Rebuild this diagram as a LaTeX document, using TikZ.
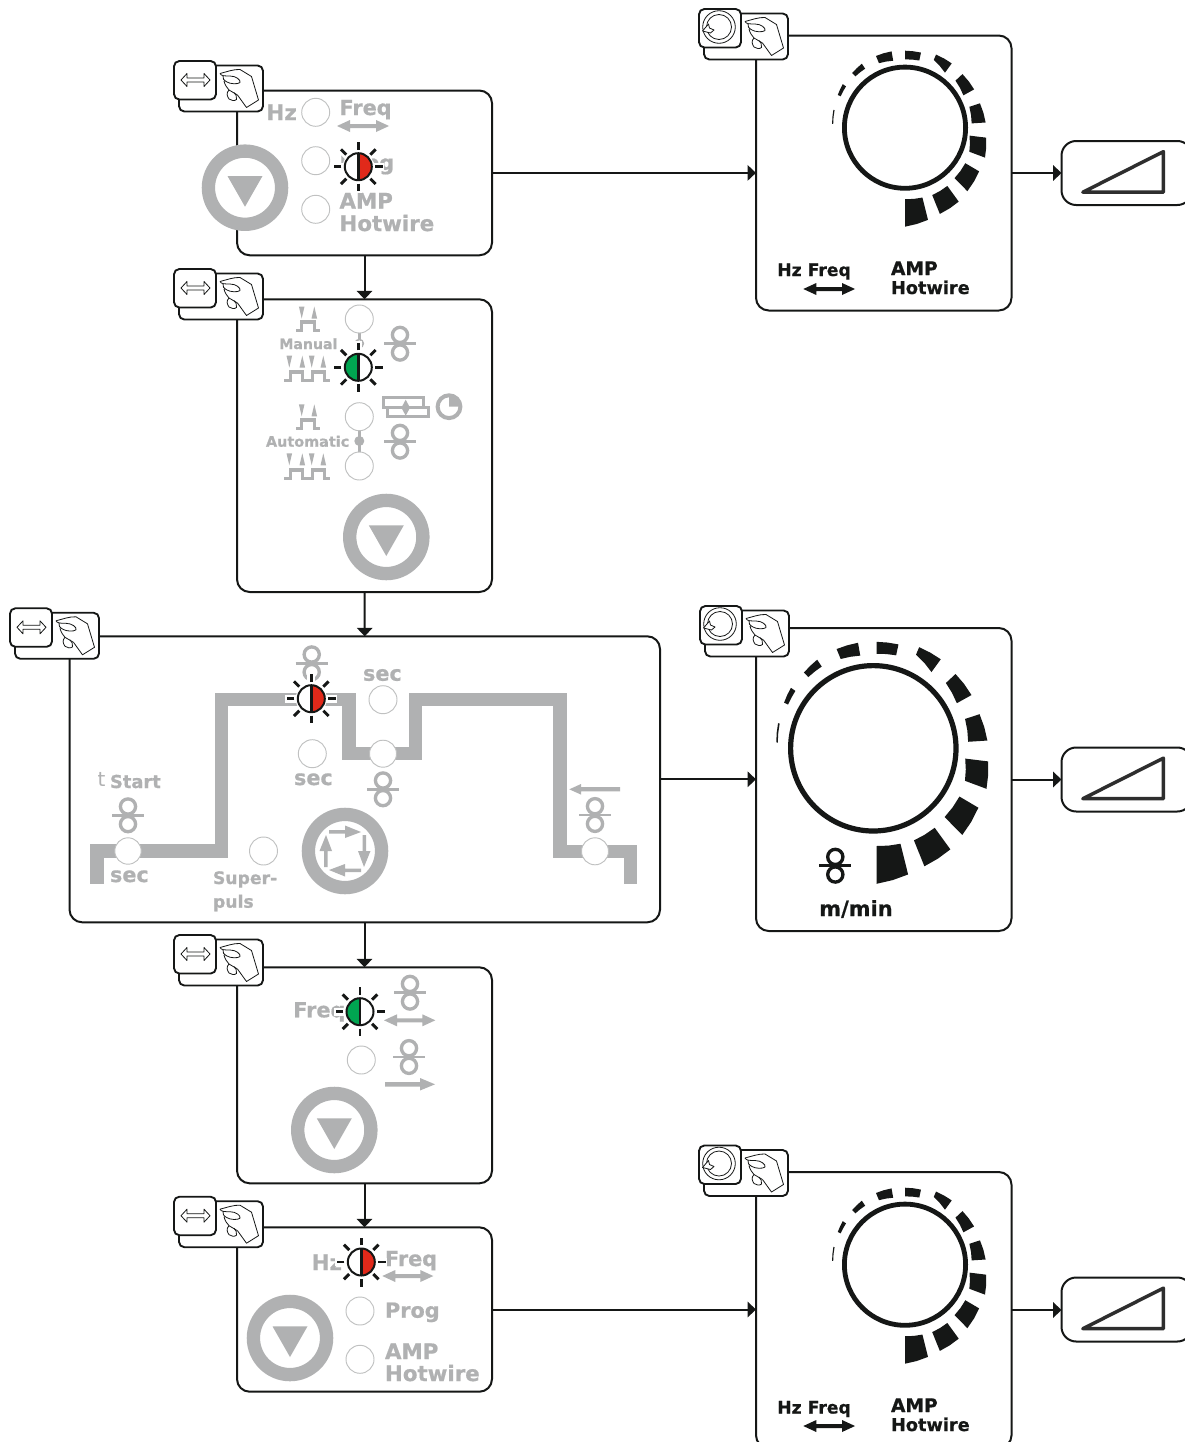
\documentclass[tikz,border=0pt]{standalone}
\usepackage{fontspec}
\setmainfont{DejaVu Sans}[BoldFeatures={FakeBold=0.7}]
\usetikzlibrary{arrows.meta}
\definecolor{gr}{HTML}{B0B1B2}
\definecolor{bk}{HTML}{151716}
\definecolor{ledred}{HTML}{E1291A}
\definecolor{ledgreen}{HTML}{00A551}
\tikzset{
  panel/.style={draw=bk,fill=white,rounded corners=9.5pt,line width=1.5pt,inner sep=0pt,outer sep=0pt},
  rampbox/.style={panel,rounded corners=11pt},
  conn/.style={draw=bk,line width=1.5pt,-{Triangle[length=6.3pt,width=11.5pt]}},
  key/.style={draw=bk,fill=white,rounded corners=4pt,line width=1.4pt},
  thin icon/.style={draw=bk,line width=0.6pt,line join=round},
  label/.style={inner sep=0pt,outer sep=0pt,anchor=base west,font=\bfseries},
  plainled/.style={draw=gr!80,fill=white,line width=0.7pt}
}
\newcommand\boxnode[6]{%
  \pgfmathsetmacro\bw{(#5-#3)*0.75}\pgfmathsetmacro\bh{(#6-#4)*0.75}%
  \node[#1,minimum width=\bw pt,minimum height=\bh pt,anchor=north west] (#2) at (#3,#4) {};}
% name, x, baseline, size(pt), colour, text
\newcommand\lab[6]{\node[label,text=#5] (#1) at (#2,#3) {\fontsize{#4pt}{#4pt}\selectfont #6};}
\newcommand\handshape{%
  \draw[thin icon] (46,12.5) .. controls (52,11) and (60,8) .. (66,8.5) -- (77.5,15.5) -- (84.5,39) -- (72.5,46.5) -- (63.5,34);
  \draw[thin icon] (46,12.5) .. controls (47,15) and (51,15) .. (56,15) .. controls (62,15) and (67,19) .. (66,21.5) .. controls (64,23.5) and (56,23) .. (53,21) .. controls (50,19.5) and (48,17) .. (49,15);
  \draw[thin icon] (50,20) .. controls (51,24) and (53,27) .. (55,29) -- (63.5,34);
  \draw[thin icon] (55,29) .. controls (52,32) and (53,35) .. (55,38) .. controls (57,40) and (61,40) .. (62.5,38.5) .. controls (63,36) and (62,33) .. (60,31.5);
}
\newcommand\keyframe{%
  \draw[key] (5,4.5) rectangle (89,50.5);
  \handshape
  \draw[key] (0,0) rectangle (42,38.5);
}
\newcommand\selectkey[2]{\begin{scope}[shift={(#1,#2)}]\keyframe
  \draw[thin icon] (7,19) -- (13,12.5) -- (13,17) -- (30,17) -- (30,12.5) -- (36,19) -- (30,25.5) -- (30,21) -- (13,21) -- (13,25.5) -- cycle;
\end{scope}}
\newcommand\turnkey[2]{\begin{scope}[shift={(#1,#2)}]\keyframe
  \draw[thin icon] (20,18) circle[radius=16.3];
  \draw[thin icon] (20,18) circle[radius=12.5];
  \draw[thin icon,fill=white] (3.5,22) -- (9.5,15) -- (10.5,19) -- (15,21) -- (11.5,24) -- cycle;
\end{scope}}
\newcommand\led[3][14]{\draw[plainled] (#2,#3) circle[radius=#1];}
% x, y, colour, side: 1 right half, -1 left half
\newcommand\blink[4]{\begin{scope}[shift={(#1,#2)}]
  \fill[white] (0,0) circle[radius=15.6];
  \foreach \a in {0,45,...,315}{\draw[white,line width=6pt] (\a:15) -- (\a:26);}
  \foreach \a in {0,45,...,315}{\draw[bk,line width=2.2pt] (\a:17) -- (\a:24.5);}
  \begin{scope}\clip (0,-15) rectangle (#4*15,15);\fill[#3] (0,0) circle[radius=13.5];\end{scope}
  \draw[bk,line width=1.5pt] (0,0) circle[radius=13.5];
  \draw[bk,line width=2pt] (0,-13.5) -- (0,13.5);
\end{scope}}
\newcommand\wiresym[3][gr]{\begin{scope}[shift={(#2,#3)}]
  \draw[#1,line width=2.5pt] (0,-8.8) circle[radius=7.6];
  \draw[#1,line width=2.5pt] (0,8.8) circle[radius=7.6];
  \draw[#1,line width=2pt] (-16,0) -- (16,0);
\end{scope}}
\newcommand\downbtn[2]{\begin{scope}[shift={(#1,#2)}]
  \draw[gr,fill=white,line width=10pt] (0,0) circle[radius=36.6];
  \fill[gr] (-17.5,-11.7) -- (17.5,-11.7) -- (0,19) -- cycle;
\end{scope}}
% x1, x2, y, colour
\newcommand\dblarrow[4]{\fill[#4] (#1,#3) -- ++(13,-6) -- ++(0,4) -- ({#2-13},{#3-2}) -- ++(0,-4) -- (#2,#3) -- ({#2-13},{#3+6}) -- ++(0,-4) -- ({#1+13},{#3+2}) -- ++(0,4) -- cycle;}
% a1 a2 inner1 outer1 inner2 outer2
\newcommand\kw[6]{\fill[bk] (#1:#3) -- ({(#1+#2)/2}:{(#3+#5)/2}) -- (#2:#5) -- (#2:#6) -- ({(#1+#2)/2}:{(#4+#6)/2}) -- (#1:#4) -- cycle;}
\newcommand\dialmarks[3]{\begin{scope}[shift={(#1,#2)},scale=#3]
  \kw{90}{76}{71.5}{99}{72}{95}
  \kw{68}{54}{72.7}{93}{72}{91.4}
  \kw{45.5}{30.5}{70.7}{89}{70}{86}
  \kw{20.5}{7}{68.7}{85.4}{65}{81.8}
  \kw{-3.7}{-18}{66.8}{80.8}{67.7}{78.8}
  \kw{-29}{-43}{66.8}{79}{69}{78.6}
  \kw{-54}{-67}{68}{79.5}{73.6}{79.4}
  \kw{-78}{-90}{68.7}{76.8}{68.3}{77}
  \kw{-100}{-112}{68}{77.5}{69.6}{77.4}
  \kw{-124}{-134}{71.2}{77.2}{71.4}{76}
  \kw{-145}{-154}{72}{76}{71.6}{74.8}
  \kw{-166}{-177}{72.6}{73.8}{71.9}{73}
\end{scope}}
\newcommand\pulseone[2]{\begin{scope}[shift={(#1,#2)}]
  \draw[gr,line width=2.6pt,line join=miter] (-12,0) -- (-6.3,0) -- (-6.3,-8.5) -- (6.3,-8.5) -- (6.3,0) -- (12,0);
  \fill[gr] (-9.1,-24) -- (-3.5,-24) -- (-6.3,-12) -- cycle;
  \fill[gr] (3.5,-12) -- (9.1,-12) -- (6.3,-24) -- cycle;
\end{scope}}
\newcommand\pulsetwo[2]{\begin{scope}[shift={(#1,#2)}]
  \draw[gr,line width=2.6pt,line join=miter] (-23,0) -- (-17,0) -- (-17,-8.5) -- (-5,-8.5) -- (-5,0) -- (5,0) -- (5,-8.5) -- (17,-8.5) -- (17,0) -- (23,0);
  \foreach \c in {-18,4.4}{\fill[gr] ({\c-2.8},-25) -- ({\c+2.8},-25) -- (\c,-13) -- cycle;}
  \foreach \c in {-5,16}{\fill[gr] ({\c-2.8},-13) -- ({\c+2.8},-13) -- (\c,-25) -- cycle;}
\end{scope}}
\begin{document}
\begin{tikzpicture}[x=0.75pt,y=-0.75pt]
\useasboundingbox (0,0) rectangle (1185,1442);
\clip (0,0) rectangle (1185,1442);
% ---------- boxes
\boxnode{panel}{p1}{237}{90.5}{492}{255.3}
\boxnode{panel}{p2}{237}{299.3}{492}{592}
\boxnode{panel}{p3}{69.5}{636.3}{660}{922.3}
\boxnode{panel}{p4}{237}{967.3}{492}{1183.3}
\boxnode{panel}{p5}{237}{1227.3}{492}{1391.7}
\boxnode{panel}{r1}{756}{35.5}{1011.5}{310.5}
\boxnode{panel}{r2}{756}{628}{1011.5}{931}
\boxnode{panel}{r3}{756}{1172}{1011.5}{1448}
\boxnode{rampbox}{s1}{1061.5}{141}{1192}{205}
\boxnode{rampbox}{s2}{1061.5}{747.5}{1192}{811.5}
\boxnode{rampbox}{s3}{1061.5}{1277.5}{1192}{1341.5}
% ---------- connectors
\draw[conn] (p1.south) -- (p2.north);
\draw[conn] (p2.south) -- (p3.north);
\draw[conn] (p3.south -| p4.north) -- (p4.north);
\draw[conn] (p4.south) -- (p5.north);
\draw[conn] (p1.east) -- (p1.east -| r1.west);
\draw[conn] (p3.east) -- (p3.east -| r2.west);
\draw[conn] (p5.east) -- (p5.east -| r3.west);
\draw[conn] (r1.east) -- (r1.east -| s1.west);
\draw[conn] (r2.east) -- (r2.east -| s2.west);
\draw[conn] (r3.east) -- (r3.east -| s3.west);
% ---------- ramps
\foreach \n in {s1,s2,s3}{
  \draw[draw=black!82,line width=2.6pt,line join=round] ([xshift=16pt,yshift=-14.4pt]\n.west) -- ++(80.6,-40.6) -- ++(0,40.6) -- cycle;
}
% ---------- panel 1
\lab{a1}{266.5}{120}{16}{gr}{Hz}
\lab{a2}{339.5}{115}{15.6}{gr}{Freq}
\dblarrow{337}{389}{126}{gr}
\lab{a3}{339.5}{170}{15.6}{gr}{Prog}
\lab{a4}{339.5}{208.5}{16}{gr}{AMP}
\lab{a5}{339.5}{231}{16}{gr}{Hotwire}
\led{315.7}{112.3}\led{315.7}{160.7}\led{315.7}{209.3}
\downbtn{245}{187.7}
\blink{358.3}{166.7}{ledred}{1}
% ---------- panel 2
\pulseone{308}{330.5}
\pulsetwo{307.3}{380.7}
\pulseone{308}{428.3}
\pulsetwo{307.3}{478.3}
\lab{b1}{279.3}{349}{10.6}{gr}{Manual}
\lab{b2}{266}{446.7}{10.8}{gr}{Automatic}
\draw[gr,line width=2pt] (359.3,333) -- (359.3,340);
\draw[gr,fill=white,line width=1.2pt] (359.3,343.5) circle[radius=4];
\draw[gr,line width=2pt] (359.3,430) -- (359.3,452);
\fill[gr] (359.3,441) circle[radius=5];
\led{359.3}{319}\led{359.3}{416.7}\led{359.3}{466}
\wiresym{400}{343.7}
\wiresym{400}{441.7}
\draw[gr,line width=2.3pt] (383.3,397.7) rectangle (423.3,407.7);
\draw[gr,line width=2.3pt] (387.7,407.7) rectangle (428.3,416.7);
\fill[gr] (405.7,399.7) -- (410,407.7) -- (405.7,415.7) -- (401.4,407.7) -- cycle;
\draw[gr,line width=3pt] (449,406.7) circle[radius=11.4];
\fill[gr] (449,406.7) -- (449,395.3) arc[start angle=-90,end angle=0,radius=11.4] -- cycle;
\downbtn{386.3}{537}
\blink{358.3}{367.3}{ledgreen}{-1}
% ---------- panel 3
\draw[gr,line width=10pt,line join=miter] (97,883.7) -- (97,851) -- (221.7,851) -- (221.7,699.5) -- (349,699.5) -- (349,753.3) -- (415.7,753.3) -- (415.7,699.3) -- (560,699.3) -- (560,851.3) -- (630.7,851.3) -- (630.7,884);
\wiresym{128}{815.3}
\wiresym{311.7}{663.3}
\wiresym{383}{789.3}
\wiresym{595}{815}
\led[13.2]{128}{851}
\led{263.5}{851}
\led{383}{699.7}
\led[13.5]{383}{753.7}
\led{312.3}{753.7}
\led[13.5]{595}{851.3}
\node[label,text=gr,font=\normalfont] (c0) at (97.5,786) {\fontsize{15pt}{15pt}\selectfont t};
\lab{c1}{110}{788}{13.4}{gr}{Start}
\lab{c2}{110}{882}{15.6}{gr}{sec}
\lab{c3}{363}{680.7}{15.6}{gr}{sec}
\lab{c4}{294}{785}{15.6}{gr}{sec}
\lab{c5}{213}{884}{12.9}{gr}{Super-}
\lab{c6}{213}{907.7}{12.9}{gr}{puls}
\fill[gr] (569.3,789.3) -- (581,784) -- (581,787.2) -- (620,787.2) -- (620,791.4) -- (581,791.4) -- (581,794.6) -- cycle;
\begin{scope}[shift={(345,851)}]
  \draw[gr,fill=white,line width=10pt] (0,0) circle[radius=36.6];
  \foreach \k in {0,1,2,3}{
    \begin{scope}[rotate=-90*\k]
      \fill[gr] (-16,-21) -- (0,-21) -- (0,-25.5) -- (16,-19) -- (0,-13) -- (0,-17.5) -- (-16,-17.5) -- cycle;
    \end{scope}}
\end{scope}
\blink{311.3}{698.7}{ledred}{1}
% ---------- panel 4
\lab{d1}{293.3}{1017.3}{15.6}{gr}{Freq}
\wiresym{410}{992.7}
\wiresym{409}{1057}
\dblarrow{384}{435.3}{1020.3}{gr}
\fill[gr] (385,1082) -- (420,1082) -- (420,1078) -- (435,1084.3) -- (420,1090.5) -- (420,1086.5) -- (385,1086.5) -- cycle;
\led{361.3}{1060}
\downbtn{334.3}{1130}
\blink{360}{1011.7}{ledgreen}{-1}
% ---------- panel 5
\lab{e1}{311.7}{1270}{16}{gr}{Hz}
\lab{e2}{385}{1266}{15.6}{gr}{Freq}
\dblarrow{382.3}{433.3}{1276}{gr}
\lab{e3}{385}{1317.7}{15.6}{gr}{Prog}
\lab{e4}{385}{1359}{16}{gr}{AMP}
\lab{e5}{385}{1381}{16}{gr}{Hotwire}
\led{360}{1311}\led{360}{1359.3}
\downbtn{290}{1338}
\blink{361.3}{1262}{ledred}{1}
% ---------- dial 1
\draw[bk,line width=3.6pt] (905,127.7) circle[radius=60.6];
\dialmarks{905}{127.7}{1}
\lab{f1}{777.3}{276}{12.9}{bk}{Hz Freq}
\dblarrow{803.3}{855}{289}{bk}
\lab{f2}{891}{275}{14}{bk}{AMP}
\lab{f3}{891}{294}{13.3}{bk}{Hotwire}
% ---------- dial 2
\draw[bk,line width=3.9pt] (873.3,748.3) circle[radius=82.7];
\dialmarks{876.5}{747.7}{1.375}
\wiresym[bk]{835.3}{865.7}
\lab{g1}{819.3}{916}{15.7}{bk}{m/min}
% ---------- dial 3
\draw[bk,line width=3.6pt] (905,1264.7) circle[radius=60.6];
\dialmarks{905}{1264.7}{1}
\lab{h1}{777.3}{1413.5}{12.9}{bk}{Hz Freq}
\dblarrow{803.3}{855}{1426}{bk}
\lab{h2}{891}{1412}{14}{bk}{AMP}
\lab{h3}{891}{1431}{13.3}{bk}{Hotwire}
% ---------- keys
\selectkey{174}{61}
\selectkey{174}{269}
\selectkey{10}{608.3}
\selectkey{174}{935}
\selectkey{174}{1196.7}
\turnkey{699}{9}
\turnkey{700}{606}
\turnkey{699}{1145.5}
\end{tikzpicture}
\end{document}
